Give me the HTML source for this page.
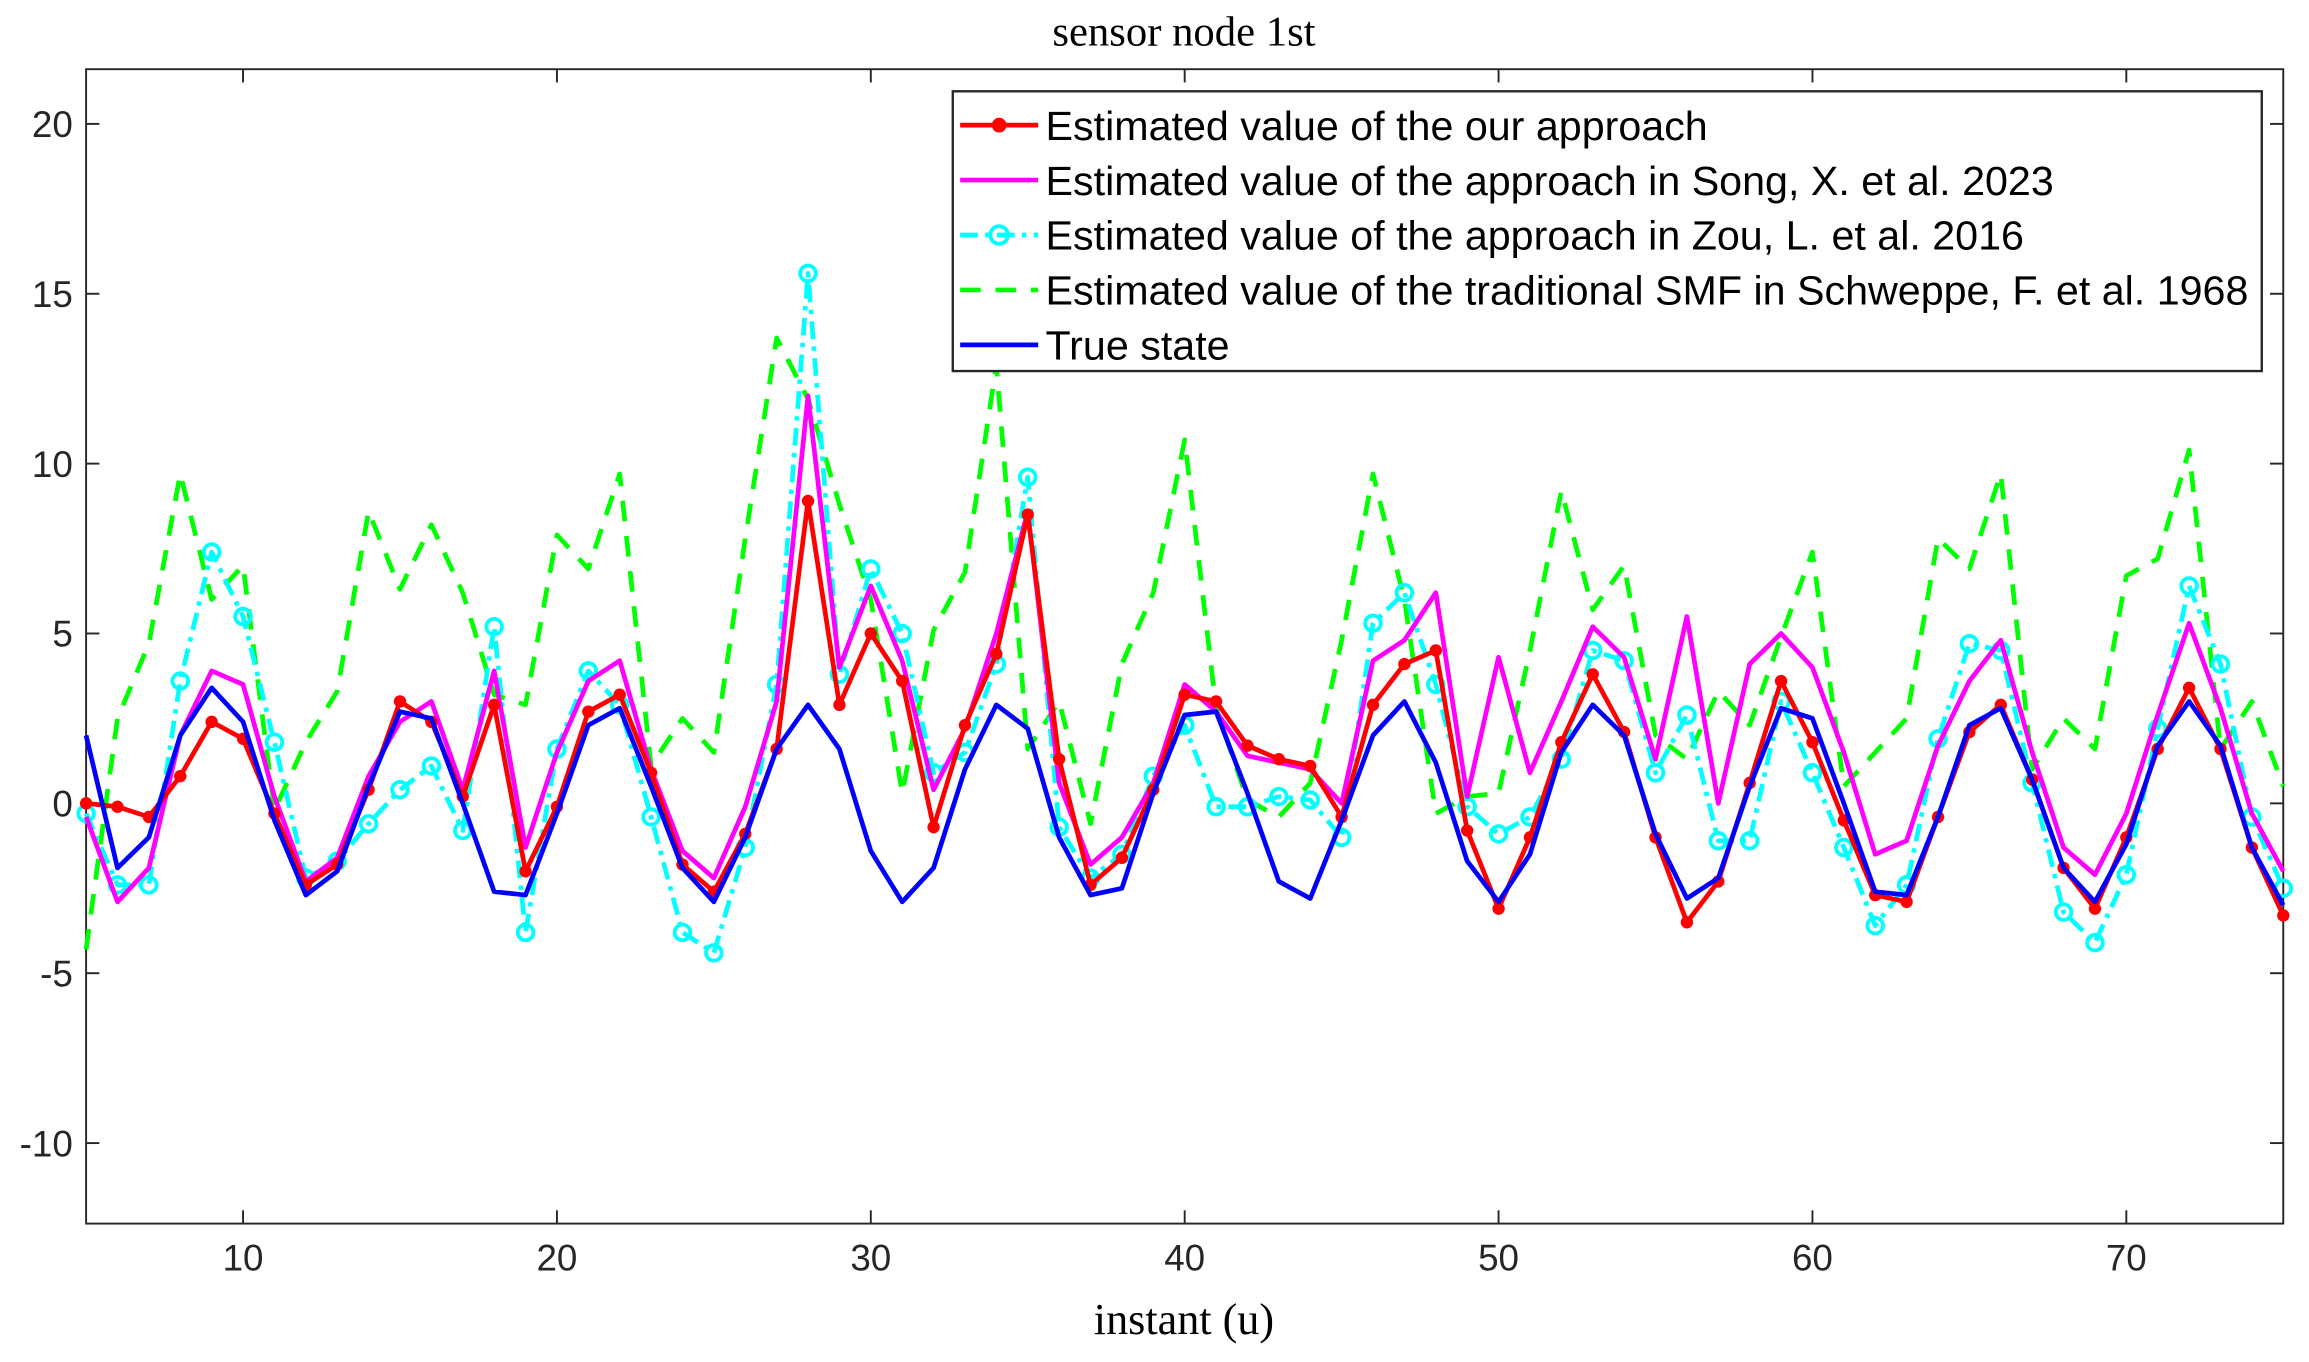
<!DOCTYPE html>
<html><head><meta charset="utf-8"><style>
html,body{margin:0;padding:0;background:#fff;}
svg{display:block;}
</style></head><body>
<svg id="chart" width="2309" height="1362" viewBox="0 0 1568 925" xmlns="http://www.w3.org/2000/svg">
<rect x="0" y="0" width="1568" height="925" fill="#fff"/>
<text x="804" y="31" text-anchor="middle" font-family="Liberation Serif, serif" font-size="29">sensor node 1st</text>
<rect x="58.4" y="47" width="1492.2" height="784" fill="#fff" stroke="#262626" stroke-width="1.3"/>
<g id="axes"></g>
<g id="series"></g>
<text x="804" y="906" text-anchor="middle" font-family="Liberation Serif, serif" font-size="30">instant (u)</text>
<g id="legend">
<rect x="647" y="62" width="889" height="190" fill="#fff" stroke="#262626" stroke-width="1.6"/>
</g>
</svg>
<script>
const xs = [];
for (let i = 5; i <= 75; i++) xs.push(i);
const trueState = [2.0,-1.9,-1.0,2.0,3.4,2.4,-0.5,-2.7,-2.0,0.5,2.7,2.5,0,-2.6,-2.7,-0.3,2.3,2.8,0.5,-1.9,-2.9,-1.0,1.6,2.9,1.6,-1.4,-2.9,-1.9,1.0,2.9,2.2,-1.0,-2.7,-2.5,0.3,2.6,2.7,0.3,-2.3,-2.8,-0.5,2.0,3.0,1.2,-1.7,-2.9,-1.5,1.5,2.9,2.0,-0.9,-2.8,-2.2,0.5,2.8,2.5,0,-2.6,-2.7,-0.4,2.3,2.8,0.7,-1.9,-2.9,-1.2,1.7,3.0,1.7,-1.3,-3.0];
const ours = [0.0,-0.1,-0.4,0.8,2.4,1.9,-0.3,-2.4,-1.8,0.4,3.0,2.4,0.2,2.9,-2.0,-0.1,2.7,3.2,0.9,-1.8,-2.6,-0.9,1.6,8.9,2.9,5.0,3.6,-0.7,2.3,4.4,8.5,1.3,-2.4,-1.6,0.4,3.2,3.0,1.7,1.3,1.1,-0.4,2.9,4.1,4.5,-0.8,-3.1,-1.0,1.8,3.8,2.1,-1.0,-3.5,-2.3,0.6,3.6,1.8,-0.5,-2.7,-2.9,-0.4,2.1,2.9,0.7,-1.9,-3.1,-1.0,1.6,3.4,1.6,-1.3,-3.3];
const song = [-0.4,-2.9,-1.9,2.0,3.9,3.5,0.2,-2.3,-1.6,0.8,2.4,3.0,0.4,3.9,-1.3,1.5,3.6,4.2,1.0,-1.4,-2.2,-0.1,3.0,12.0,4.0,6.4,4.2,0.4,2.2,5.0,8.6,0.6,-1.8,-1.0,0.6,3.5,2.7,1.4,1.2,1.0,0.0,4.2,4.8,6.2,0.2,4.3,0.9,3.0,5.2,4.3,1.3,5.5,0.0,4.1,5.0,4.0,1.5,-1.5,-1.1,1.7,3.6,4.8,1.5,-1.3,-2.1,-0.3,2.6,5.3,2.8,-0.3,-2.0];
const zou = [-0.3,-2.4,-2.4,3.6,7.4,5.5,1.8,-2.2,-1.7,-0.6,0.4,1.1,-0.8,5.2,-3.8,1.6,3.9,2.9,-0.4,-3.8,-4.4,-1.3,3.5,15.6,3.8,6.9,5.0,0.9,1.5,4.1,9.6,-0.7,-2.2,-1.5,0.8,2.3,-0.1,-0.1,0.2,0.1,-1.0,5.3,6.2,3.5,-0.1,-0.9,-0.4,1.3,4.5,4.2,0.9,2.6,-1.1,-1.1,3.0,0.9,-1.3,-3.6,-2.4,1.9,4.7,4.5,0.6,-3.2,-4.1,-2.1,2.2,6.4,4.1,-0.4,-2.5];
const smf = [-4.3,2.5,4.7,9.7,6.0,7.0,-0.2,1.8,3.3,8.6,6.3,8.2,6.2,3.2,2.9,7.9,6.9,9.7,1.1,2.5,1.5,7.8,13.7,11.9,8.8,6.0,0.3,5.1,6.8,12.9,1.6,3.0,-0.6,4.1,6.2,10.7,2.8,0.1,-0.4,0.6,4.8,9.7,6.0,-0.3,0.2,0.3,4.5,9.2,5.7,7.0,2.0,1.3,3.3,2.3,4.9,7.4,0.5,1.5,2.5,7.8,6.9,9.7,1.0,2.5,1.6,6.7,7.2,10.4,1.6,3.0,0.5];
const xTicks = [10,20,30,40,50,60,70];
const yTicks = [-10,-5,0,5,10,15,20];

const NS = "http://www.w3.org/2000/svg";
const X0 = 58.4, X1 = 1550.6, Y0 = 831, Y1 = 47;
const xMin = 5, xMax = 75, yMin = -12.37, yMax = 21.61;
function sx(v){ return X0 + (v - xMin) / (xMax - xMin) * (X1 - X0); }
function sy(v){ return Y0 - (v - yMin) / (yMax - yMin) * (Y0 - Y1); }
function mk(tag, attrs, parent){ const e = document.createElementNS(NS, tag); for (const k in attrs) e.setAttribute(k, attrs[k]); parent.appendChild(e); return e; }

const axes = document.getElementById('axes');
xTicks.forEach(t => {
  const x = sx(t);
  mk('line', {x1:x, x2:x, y1:Y0, y2:Y0-9, stroke:'#262626', 'stroke-width':1.3}, axes);
  mk('line', {x1:x, x2:x, y1:Y1, y2:Y1+9, stroke:'#262626', 'stroke-width':1.3}, axes);
  const tx = mk('text', {x:x, y:Y0+32, 'text-anchor':'middle', 'font-family':'Liberation Sans, sans-serif', 'font-size':25, fill:'#262626'}, axes);
  
  
  tx.textContent = t;
});
yTicks.forEach(t => {
  const y = sy(t);
  mk('line', {x1:X0, x2:X0+9, y1:y, y2:y, stroke:'#262626', 'stroke-width':1.3}, axes);
  mk('line', {x1:X1, x2:X1-9, y1:y, y2:y, stroke:'#262626', 'stroke-width':1.3}, axes);
  const tx = mk('text', {x:X0-9, y:y+9, 'text-anchor':'end', 'font-family':'Liberation Sans, sans-serif', 'font-size':25, fill:'#262626'}, axes);
  
  
  tx.textContent = t;
});

const sg = document.getElementById('series');
function pts(arr){ return arr.map((v,i) => sx(xs[i]).toFixed(2) + ',' + sy(v).toFixed(2)).join(' '); }
function drawLine(arr, color, dash, name){
  const p = mk('polyline', {points:pts(arr), fill:'none', stroke:color, 'stroke-width':3.2, 'stroke-linejoin':'round'}, sg);
  if (dash) p.setAttribute('stroke-dasharray', dash);
  
  
}
drawLine(smf, '#00ff00', '14,10', 'smf-line');
drawLine(zou, '#00ffff', '12,5,3,5', 'zou-line');
zou.forEach((v,i) => {
  const c = mk('circle', {cx:sx(xs[i]), cy:sy(v), r:5.3, fill:'none', stroke:'#00ffff', 'stroke-width':2.6}, sg);
  
  
});
drawLine(song, '#ff00ff', null, 'song-line');
drawLine(ours, '#ff0000', null, 'ours-line');
ours.forEach((v,i) => {
  const c = mk('circle', {cx:sx(xs[i]), cy:sy(v), r:4.2, fill:'#ff0000'}, sg);
  
  
});
drawLine(trueState, '#0000ff', null, 'true-state-line');

const lg = document.getElementById('legend');
const entries = [
  ['Estimated value of the our approach', '#ff0000', null, 'dot'],
  ['Estimated value of the approach in Song, X. et al. 2023', '#ff00ff', null, null],
  ['Estimated value of the approach in Zou, L. et al. 2016', '#00ffff', '12,5,3,5', 'circ'],
  ['Estimated value of the traditional SMF in Schweppe, F. et al. 1968', '#00ff00', '14,10', null],
  ['True state', '#0000ff', null, null]
];
entries.forEach((e, i) => {
  const y = 85 + i * 37.3;
  const g = mk('g', {}, lg);
  
  
  const l = mk('line', {x1:652, x2:705, y1:y, y2:y, stroke:e[1], 'stroke-width':3.2}, g);
  if (e[2]) l.setAttribute('stroke-dasharray', e[2]);
  if (e[3] === 'dot') mk('circle', {cx:678.5, cy:y, r:5, fill:e[1]}, g);
  if (e[3] === 'circ') mk('circle', {cx:678.5, cy:y, r:6, fill:'none', stroke:e[1], 'stroke-width':2.6}, g);
  const t = mk('text', {x:710, y:y+10, 'font-family':'Liberation Sans, sans-serif', 'font-size':28, fill:'#000'}, g);
  t.textContent = e[0];
});
</script>
</body></html>
